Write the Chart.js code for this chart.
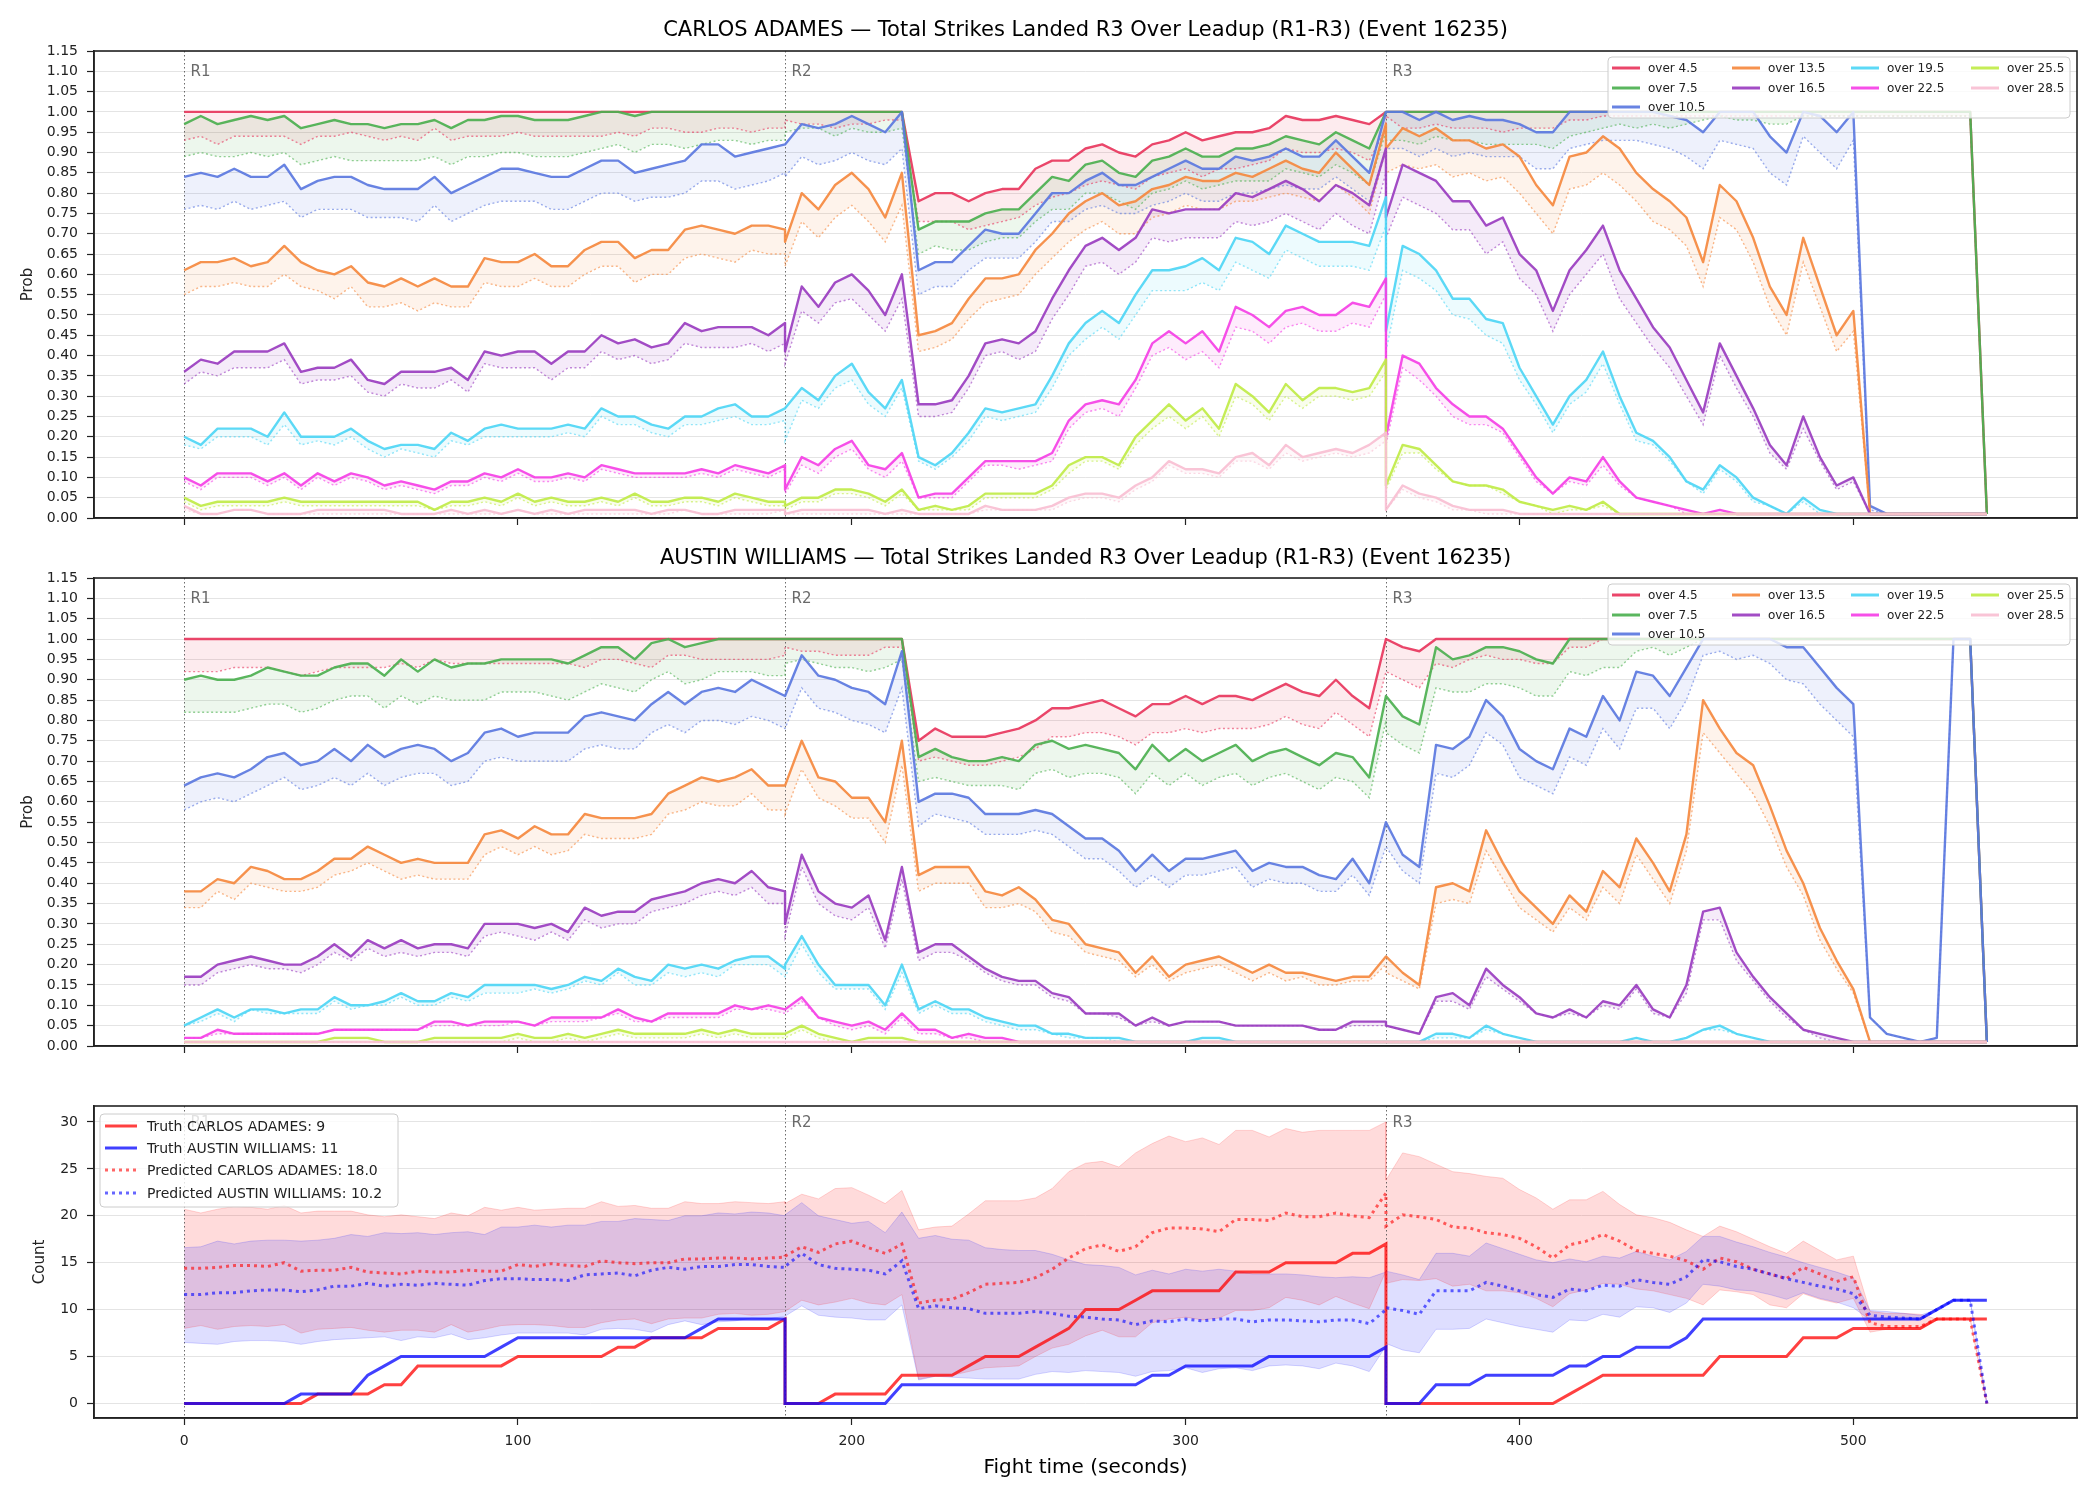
<!DOCTYPE html>
<html>
<head>
<meta charset="utf-8">
<script src="https://cdn.jsdelivr.net/npm/chart.js@4.4.1/dist/chart.umd.min.js"></script>
<style>
  html, body { margin: 0; padding: 0; background: #fff; }
  #wrap { position: relative; width: 2100px; height: 1500px; }
  canvas { position: absolute; left: 0; }
</style>
</head>
<body>
<div id="wrap">
  <canvas id="adamesChart" width="2100" height="540" style="top:0px"></canvas>
  <canvas id="williamsChart" width="2100" height="528" style="top:540px"></canvas>
  <canvas id="countChart" width="2100" height="432" style="top:1068px"></canvas>
</div>
<script>
// rounds, ticks, labels
const roundStarts = [0, 180, 360];
const roundNames = ['R1', 'R2', 'R3'];
const timeTicks = [0, 100, 200, 300, 400, 500];
const probTicks = [0, .05, .1, .15, .2, .25, .3, .35, .4, .45, .5, .55, .6, .65, .7, .75, .8, .85, .9, .95, 1, 1.05, 1.1, 1.15];
const countTicks = [0, 5, 10, 15, 20, 25, 30];
const lineLabels = ['over 4.5', 'over 7.5', 'over 10.5', 'over 13.5', 'over 16.5', 'over 19.5', 'over 22.5', 'over 25.5', 'over 28.5'];
const lineColors = ['#e8365d', '#4cb050', '#5b78e0', '#f5893f', '#9a3dc0', '#4ed6f5', '#f540e6', '#c0eb48', '#f8bfd2'];

// one sample every 5 s, each round restarts at its own start (0..180 within round)
const timeSec = [];
roundStarts.forEach(s => { for (let t = 0; t <= 180; t += 5) timeSec.push(s + t); });

// ---------------- CARLOS ADAMES : P(over x) and lower band ----------------
const adamesOver4_5 = [
  1,1,1,1,1,1,1,1,1,1, 1,1,1,1,1,1,1,1,1,1, 1,1,1,1,1,1,1,1,1,1, 1,1,1,1,1,1,1,
  1,1,1,1,1,1,1,1,.78,.80, .80,.78,.80,.81,.81,.86,.88,.88,.91,.92, .90,.89,.92,.93,.95,.93,.94,.95,.95,.96, .99,.98,.98,.99,.98,.97,1,
  1,1,1,1,1,1,1,1,1,1, 1,1,1,1,1,1,1,1,1,1, 1,1,1,1,1,1,1,1,1,1, 1,1,1,1,1,1,.01];
const adamesOver4_5Low = [
  .93,.94,.92,.94,.94,.94,.94,.92,.94,.94, .95,.94,.93,.94,.93,.96,.93,.94,.94,.94, .95,.94,.94,.94,.94,.94,.95,.94,.96,.96, .95,.95,.96,.96,.95,.96,.96,
  .98,.97,.97,.96,.97,.97,.98,.98,.73,.73, .73,.71,.72,.73,.74,.77,.79,.80,.82,.83, .82,.81,.84,.85,.86,.84,.86,.86,.87,.88, .91,.90,.90,.91,.90,.88,.96,
  .99,.96,.96,.97,.96,.96,.96,.95,.96,.96, .96,.98,.98,.99,.99,.99,.99,.99,.99,.99, .99,.99,.99,.99,.99,.99,.99,.99,.99,.99, .99,.99,.99,.99,.99,.99,.01];
const adamesOver7_5 = [
  .97,.99,.97,.98,.99,.98,.99,.96,.97,.98, .97,.97,.96,.97,.97,.98,.96,.98,.98,.99, .99,.98,.98,.98,.99,1,1,.99,1,1, 1,1,1,1,1,1,1,
  1,1,1,1,1,1,1,1,.71,.73, .73,.73,.75,.76,.76,.80,.84,.83,.87,.88, .85,.84,.88,.89,.91,.89,.89,.91,.91,.92, .94,.93,.92,.95,.93,.91,1,
  1,1,1,1,1,1,1,1,1,1, 1,1,1,1,1,1,1,1,1,1, 1,1,1,1,1,1,1,1,1,1, 1,1,1,1,1,1,.01];
const adamesOver7_5Low = [
  .89,.90,.89,.89,.90,.89,.90,.87,.88,.89, .88,.88,.88,.88,.88,.89,.87,.89,.89,.90, .90,.89,.89,.89,.90,.91,.92,.90,.92,.92, .91,.92,.93,.93,.92,.93,.93,
  .95,.96,.96,.94,.96,.95,.95,.96,.65,.67, .66,.66,.68,.69,.69,.73,.76,.76,.80,.80, .78,.76,.80,.81,.83,.81,.82,.83,.83,.83, .86,.85,.84,.87,.85,.82,.95,
  .93,.93,.92,.94,.93,.93,.92,.92,.92,.92, .91,.94,.95,.96,.97,.96,.97,.96,.97,.98, .99,.98,.98,.97,.97,.99,.99,.99,.99,.99, .99,.99,.99,.99,.99,.99,.01];
const adamesOver10_5 = [
  .84,.85,.84,.86,.84,.84,.87,.81,.83,.84, .84,.82,.81,.81,.81,.84,.80,.82,.84,.86, .86,.85,.84,.84,.86,.88,.88,.85,.86,.87, .88,.92,.92,.89,.90,.91,.92,
  .92,.97,.96,.97,.99,.97,.95,1,.61,.63, .63,.67,.71,.70,.70,.75,.80,.80,.83,.85, .82,.82,.84,.86,.88,.86,.86,.89,.88,.89, .91,.89,.89,.93,.89,.85,1,
  1,1,.98,1,.98,.99,.98,.98,.97,.95, .95,1,1,1,1,1,1,.99,.98,.95, 1,1,1,.94,.90,1,.99,.95,1,.03, .01,.01,.01,.01,.01,.01,.01];
const adamesOver10_5Low = [
  .76,.77,.76,.78,.76,.77,.78,.74,.76,.76, .76,.74,.74,.74,.73,.77,.73,.75,.77,.78, .78,.78,.76,.76,.78,.80,.80,.78,.79,.79, .80,.83,.83,.81,.82,.83,.85,
  .84,.89,.87,.88,.90,.88,.87,.91,.55,.57, .57,.61,.64,.64,.64,.68,.73,.73,.76,.77, .75,.75,.77,.78,.80,.78,.78,.80,.80,.81, .82,.81,.81,.84,.81,.78,.91,
  .91,.91,.89,.91,.89,.90,.89,.89,.89,.86, .86,.91,.92,.93,.93,.93,.92,.91,.89,.86, .93,.92,.91,.85,.82,.94,.90,.86,.93,.02, .01,.01,.01,.01,.01,.01,.01];
const adamesOver13_5 = [
  .61,.63,.63,.64,.62,.63,.67,.63,.61,.60, .62,.58,.57,.59,.57,.59,.57,.57,.64,.63, .63,.65,.62,.62,.66,.68,.68,.64,.66,.66, .71,.72,.71,.70,.72,.72,.71,
  .68,.80,.76,.82,.85,.81,.74,.85,.45,.46, .48,.54,.59,.59,.60,.66,.70,.75,.78,.80, .77,.78,.81,.82,.84,.83,.83,.85,.84,.86, .88,.86,.85,.90,.86,.82,.97,
  .91,.96,.94,.96,.93,.93,.91,.92,.89,.82, .77,.89,.90,.94,.91,.85,.81,.78,.74,.63, .82,.78,.69,.57,.50,.69,.57,.45,.51,.01, .01,.01,.01,.01,.01,.01,.01];
const adamesOver13_5Low = [
  .55,.57,.57,.58,.57,.57,.60,.57,.56,.54, .57,.52,.52,.53,.51,.53,.52,.52,.58,.57, .57,.59,.57,.57,.60,.62,.62,.58,.60,.60, .64,.65,.64,.63,.66,.65,.65,
  .62,.73,.69,.74,.77,.73,.68,.77,.41,.42, .44,.49,.53,.54,.55,.60,.64,.68,.71,.73, .70,.70,.74,.75,.77,.76,.76,.78,.78,.79, .80,.79,.78,.82,.79,.75,.91,
  .85,.87,.86,.87,.84,.85,.83,.84,.80,.75, .70,.81,.82,.85,.82,.78,.73,.71,.67,.57, .74,.71,.63,.52,.45,.63,.52,.41,.46,.01, .01,.01,.01,.01,.01,.01,.01];
const adamesOver16_5 = [
  .36,.39,.38,.41,.41,.41,.43,.36,.37,.37, .39,.34,.33,.36,.36,.36,.37,.34,.41,.40, .41,.41,.38,.41,.41,.45,.43,.44,.42,.43, .48,.46,.47,.47,.47,.45,.48,
  .41,.57,.52,.58,.60,.56,.50,.60,.28,.28, .29,.35,.43,.44,.43,.46,.54,.61,.67,.69, .66,.69,.76,.75,.76,.76,.76,.80,.79,.81, .83,.81,.78,.82,.80,.77,.91,
  .74,.87,.85,.83,.78,.78,.72,.74,.65,.61, .51,.61,.66,.72,.61,.54,.47,.42,.34,.26, .43,.35,.27,.18,.13,.25,.15,.08,.10,.01, .01,.01,.01,.01,.01,.01,.01];
const adamesOver16_5Low = [
  .33,.36,.35,.37,.37,.37,.39,.33,.34,.34, .35,.31,.30,.33,.32,.32,.34,.31,.38,.37, .37,.37,.34,.37,.37,.41,.39,.40,.38,.39, .43,.42,.42,.42,.43,.41,.43,
  .38,.51,.48,.53,.54,.50,.46,.54,.25,.25, .26,.32,.40,.41,.39,.41,.49,.55,.62,.63, .60,.63,.69,.68,.69,.69,.69,.73,.72,.73, .75,.73,.71,.75,.72,.70,.85,
  .69,.79,.77,.75,.71,.71,.65,.68,.59,.55, .46,.55,.60,.65,.54,.48,.42,.37,.30,.23, .40,.32,.25,.16,.12,.22,.14,.07,.09,.01, .01,.01,.01,.01,.01,.01,.01];
const adamesOver19_5 = [
  .20,.18,.22,.22,.22,.20,.26,.20,.20,.20, .22,.19,.17,.18,.18,.17,.21,.19,.22,.23, .22,.22,.22,.23,.22,.27,.25,.25,.23,.22, .25,.25,.27,.28,.25,.25,.27,
  .27,.32,.29,.35,.38,.31,.27,.34,.15,.13, .16,.21,.27,.26,.27,.28,.35,.43,.48,.51, .48,.55,.61,.61,.62,.64,.61,.69,.68,.65, .72,.70,.68,.68,.68,.67,.79,
  .46,.67,.65,.61,.54,.54,.49,.48,.37,.30, .23,.30,.34,.41,.30,.21,.19,.15,.09,.07, .13,.10,.05,.03,.01,.05,.02,.01,.01,.01, .01,.01,.01,.01,.01,.01,.01];
const adamesOver19_5Low = [
  .18,.17,.20,.20,.20,.18,.23,.18,.19,.18, .20,.17,.15,.17,.16,.15,.19,.18,.20,.20, .20,.20,.20,.21,.20,.25,.23,.23,.21,.20, .23,.23,.24,.25,.23,.23,.24,
  .19,.29,.27,.32,.34,.28,.25,.32,.14,.12, .15,.19,.25,.24,.25,.26,.32,.40,.44,.47, .44,.50,.56,.56,.56,.58,.56,.63,.61,.59, .66,.64,.62,.62,.62,.61,.72,
  .41,.61,.59,.56,.50,.49,.45,.43,.34,.28, .21,.28,.31,.38,.28,.19,.18,.14,.09,.06, .12,.09,.04,.03,.01,.04,.01,.01,.01,.01, .01,.01,.01,.01,.01,.01,.01];
const adamesOver22_5 = [
  .10,.08,.11,.11,.11,.09,.11,.08,.11,.09, .11,.10,.08,.09,.08,.07,.09,.09,.11,.10, .12,.10,.10,.11,.10,.13,.12,.11,.11,.11, .11,.12,.11,.13,.12,.11,.13,
  .07,.15,.13,.17,.19,.13,.12,.16,.05,.06, .06,.10,.14,.14,.14,.14,.16,.24,.28,.29, .28,.34,.43,.46,.43,.46,.41,.52,.50,.47, .51,.52,.50,.50,.53,.52,.59,
  .20,.40,.38,.32,.28,.25,.25,.22,.16,.10, .06,.10,.09,.15,.09,.05,.04,.03,.02,.01, .02,.01,.01,.01,.01,.01,.01,.01,.01,.01, .01,.01,.01,.01,.01,.01,.01];
const adamesOver22_5Low = [
  .09,.07,.10,.10,.10,.08,.10,.07,.10,.08, .10,.09,.07,.08,.07,.06,.08,.08,.10,.09, .11,.09,.09,.10,.09,.12,.11,.10,.10,.10, .10,.11,.10,.12,.11,.10,.12,
  .06,.13,.11,.15,.17,.12,.10,.14,.05,.05, .05,.09,.13,.13,.12,.13,.14,.22,.26,.27, .25,.32,.40,.42,.39,.41,.37,.47,.46,.43, .47,.48,.46,.46,.48,.47,.55,
  .18,.37,.34,.30,.25,.23,.23,.21,.15,.09, .06,.09,.08,.13,.08,.05,.04,.03,.01,.01, .01,.01,.01,.01,.01,.01,.01,.01,.01,.01, .01,.01,.01,.01,.01,.01,.01];
const adamesOver25_5 = [
  .05,.03,.04,.04,.04,.04,.05,.04,.04,.04, .04,.04,.04,.04,.04,.02,.04,.04,.05,.04, .06,.04,.05,.04,.04,.05,.04,.06,.04,.04, .05,.05,.04,.06,.05,.04,.04,
  .03,.05,.05,.07,.07,.06,.04,.07,.02,.03, .02,.03,.06,.06,.06,.06,.08,.13,.15,.15, .13,.20,.24,.28,.24,.27,.22,.33,.30,.26, .33,.29,.32,.32,.31,.32,.39,
  .08,.18,.17,.13,.09,.08,.08,.07,.04,.03, .02,.03,.02,.04,.01,.01,.01,.01,.01,.01, .01,.01,.01,.01,.01,.01,.01,.01,.01,.01, .01,.01,.01,.01,.01,.01,.01];
const adamesOver25_5Low = [
  .04,.02,.03,.03,.03,.03,.04,.03,.03,.03, .03,.03,.03,.03,.03,.02,.03,.03,.04,.03, .05,.03,.04,.03,.03,.04,.03,.05,.03,.03, .04,.04,.03,.05,.04,.03,.03,
  .02,.04,.04,.06,.06,.05,.03,.06,.02,.02, .02,.02,.05,.05,.05,.05,.07,.11,.14,.14, .12,.18,.22,.25,.22,.25,.20,.30,.28,.24, .30,.27,.30,.30,.29,.30,.36,
  .07,.16,.16,.12,.09,.08,.08,.06,.04,.03, .01,.02,.02,.03,.01,.01,.01,.01,.01,.01, .01,.01,.01,.01,.01,.01,.01,.01,.01,.01, .01,.01,.01,.01,.01,.01,.01];
const adamesOver28_5 = [
  .03,.01,.01,.02,.02,.01,.01,.01,.02,.02, .02,.02,.02,.01,.01,.01,.02,.01,.02,.01, .02,.01,.02,.01,.02,.02,.02,.02,.01,.02, .02,.01,.01,.02,.02,.02,.02,
  .01,.02,.02,.02,.02,.02,.01,.02,.01,.01, .01,.01,.03,.02,.02,.02,.03,.05,.06,.06, .05,.08,.10,.14,.12,.12,.11,.15,.16,.13, .18,.15,.16,.17,.16,.18,.21,
  .02,.08,.06,.05,.03,.02,.02,.02,.01,.01, .01,.01,.01,.01,.01,.01,.01,.01,.01,.01, .01,.01,.01,.01,.01,.01,.01,.01,.01,.01, .01,.01,.01,.01,.01,.01,.01];
const adamesOver28_5Low = [
  .02,.01,.01,.02,.02,.01,.01,.01,.01,.01, .01,.01,.01,.01,.01,.01,.01,.01,.01,.01, .02,.01,.01,.01,.01,.01,.01,.01,.01,.01, .02,.01,.01,.01,.01,.01,.02,
  .01,.01,.01,.01,.01,.01,.01,.01,.01,.01, .01,.01,.02,.02,.02,.02,.02,.04,.05,.05, .04,.07,.09,.13,.11,.11,.10,.14,.14,.12, .16,.14,.15,.16,.15,.16,.19,
  .02,.07,.05,.04,.02,.02,.01,.01,.01,.01, .01,.01,.01,.01,.01,.01,.01,.01,.01,.01, .01,.01,.01,.01,.01,.01,.01,.01,.01,.01, .01,.01,.01,.01,.01,.01,.01];

// ---------------- AUSTIN WILLIAMS : P(over x) and lower band ----------------
const williamsOver4_5 = [
  1,1,1,1,1,1,1,1,1,1, 1,1,1,1,1,1,1,1,1,1, 1,1,1,1,1,1,1,1,1,1, 1,1,1,1,1,1,1,
  1,1,1,1,1,1,1,1,.75,.78, .76,.76,.76,.77,.78,.80,.83,.83,.84,.85, .83,.81,.84,.84,.86,.84,.86,.86,.85,.87, .89,.87,.86,.90,.86,.83,1,
  1,.98,.97,1,1,1,1,1,1,1, 1,1,1,1,1,1,1,1,1,1, 1,1,1,1,1,1,1,1,1,1, 1,1,1,1,1,1,.01];
const williamsOver4_5Low = [
  .92,.92,.92,.93,.93,.93,.92,.91,.92,.93, .93,.93,.93,.94,.93,.95,.94,.94,.94,.94, .94,.94,.94,.94,.93,.95,.95,.94,.93,.96, .96,.95,.95,.95,.95,.95,.96,
  .98,.97,.97,.96,.96,.96,.98,.98,.70,.71, .70,.69,.69,.70,.71,.73,.76,.76,.77,.77, .76,.74,.77,.77,.78,.77,.78,.78,.78,.79, .81,.79,.78,.82,.79,.76,.92,
  .92,.90,.88,.94,.93,.95,.96,.95,.95,.94, .94,.98,.98,1,1,1,1,1,1,1, 1,1,1,1,1,1,1,1,1,1, 1,1,1,1,1,1,.01];
const williamsOver7_5 = [
  .90,.91,.90,.90,.91,.93,.92,.91,.91,.93, .94,.94,.91,.95,.92,.95,.93,.94,.94,.95, .95,.95,.95,.94,.96,.98,.98,.95,.99,1, .98,.99,1,1,1,1,1,
  1,1,1,1,1,1,1,1,.71,.73, .71,.70,.70,.71,.70,.74,.75,.73,.74,.73, .72,.68,.74,.70,.73,.70,.72,.74,.70,.72, .73,.71,.69,.72,.71,.66,.86,
  .86,.81,.79,.98,.95,.96,.98,.98,.97,.95, .94,1,1,1,1,1,1,1,1,1, 1,1,1,1,1,1,1,1,1,1, 1,1,1,1,1,1,.01];
const williamsOver7_5Low = [
  .82,.82,.82,.82,.83,.84,.84,.82,.83,.85, .86,.86,.83,.86,.84,.86,.85,.85,.85,.87, .87,.87,.86,.85,.87,.89,.88,.87,.90,.92, .89,.90,.92,.92,.92,.91,.91,
  .94,.95,.94,.93,.93,.92,.93,.95,.65,.66, .65,.64,.64,.64,.63,.67,.68,.66,.67,.67, .66,.62,.67,.64,.67,.64,.66,.67,.64,.66, .67,.65,.63,.66,.65,.61,.80,
  .77,.74,.72,.88,.87,.87,.89,.89,.88,.86, .86,.92,.91,.93,.93,.97,.98,.96,.98,1, 1,1,1,1,1,1,1,1,1,1, 1,1,1,1,1,1,.01];
const williamsOver10_5 = [
  .64,.66,.67,.66,.68,.71,.72,.69,.70,.73, .70,.74,.71,.73,.74,.73,.70,.72,.77,.78, .76,.77,.77,.77,.81,.82,.81,.80,.84,.87, .84,.87,.88,.87,.90,.88,.86,
  .86,.96,.91,.90,.88,.87,.84,.97,.60,.62, .62,.61,.57,.57,.57,.58,.57,.54,.51,.51, .48,.43,.47,.43,.46,.46,.47,.48,.43,.45, .44,.44,.42,.41,.46,.40,.55,
  .55,.47,.44,.74,.73,.76,.85,.81,.73,.70, .68,.78,.76,.86,.80,.92,.91,.86,.93,1, 1,1,1,1,.98,.98,.93,.88,.84,.07, .03,.02,.01,.02,1,1,.01];
const williamsOver10_5Low = [
  .58,.60,.61,.60,.62,.64,.66,.63,.64,.66, .64,.67,.64,.66,.67,.67,.64,.65,.70,.71, .70,.70,.70,.70,.73,.74,.73,.73,.77,.79, .77,.80,.80,.79,.81,.80,.78,
  .78,.88,.83,.82,.80,.79,.77,.88,.54,.57, .56,.55,.52,.52,.52,.53,.52,.49,.46,.46, .43,.39,.42,.39,.42,.42,.43,.44,.39,.41, .40,.40,.38,.38,.42,.37,.49,
  .49,.43,.40,.67,.66,.69,.77,.74,.66,.64, .62,.71,.69,.78,.73,.83,.83,.78,.85,.96, .97,.95,.96,.94,.90,.89,.84,.80,.76,.07, .03,.02,.01,.02,1,1,.01];
const williamsOver13_5 = [
  .38,.38,.41,.40,.44,.43,.41,.41,.43,.46, .46,.49,.47,.45,.46,.45,.45,.45,.52,.53, .51,.54,.52,.52,.57,.56,.56,.56,.57,.62, .64,.66,.65,.66,.68,.64,.64,
  .64,.75,.66,.65,.61,.61,.55,.75,.42,.44, .44,.44,.38,.37,.39,.36,.31,.30,.25,.24, .23,.18,.22,.17,.20,.21,.22,.20,.18,.20, .18,.18,.17,.16,.17,.17,.22,
  .22,.18,.15,.39,.40,.38,.53,.45,.38,.34, .30,.37,.33,.43,.39,.51,.45,.38,.52,.85, .78,.72,.69,.59,.48,.40,.29,.21,.14,.01, .01,.01,.01,.01,.01,.01,.01];
const williamsOver13_5Low = [
  .34,.34,.38,.36,.40,.39,.38,.38,.39,.42, .43,.45,.43,.41,.42,.41,.41,.41,.47,.49, .47,.49,.47,.48,.52,.51,.51,.51,.52,.57, .58,.60,.59,.59,.62,.58,.58,
  .57,.68,.61,.59,.56,.56,.50,.69,.38,.40, .40,.40,.34,.34,.35,.33,.28,.27,.23,.22, .21,.17,.20,.16,.18,.19,.20,.18,.16,.18, .16,.17,.15,.15,.16,.16,.20,
  .18,.16,.14,.35,.36,.35,.48,.41,.34,.31, .28,.34,.31,.39,.35,.47,.41,.35,.48,.77, .72,.67,.62,.54,.44,.37,.26,.19,.13,.01, .01,.01,.01,.01,.01,.01,.01];
const williamsOver16_5 = [
  .17,.17,.20,.21,.22,.21,.20,.20,.22,.25, .22,.26,.24,.26,.24,.25,.25,.24,.30,.30, .30,.29,.30,.28,.34,.32,.33,.33,.36,.37, .38,.40,.41,.40,.43,.39,.38,
  .30,.47,.38,.35,.34,.37,.26,.44,.23,.25, .25,.22,.19,.17,.16,.16,.13,.12,.08,.08, .08,.05,.07,.05,.06,.06,.06,.05,.05,.05, .05,.05,.04,.04,.06,.06,.06,
  .05,.04,.03,.12,.13,.10,.19,.15,.12,.08, .07,.09,.07,.11,.10,.15,.09,.07,.15,.33, .34,.23,.17,.12,.08,.04,.03,.02,.01,.01, .01,.01,.01,.01,.01,.01,.01];
const williamsOver16_5Low = [
  .15,.15,.18,.19,.20,.19,.19,.18,.20,.23, .21,.24,.22,.23,.22,.23,.23,.22,.27,.28, .27,.26,.28,.26,.31,.29,.30,.30,.33,.34, .35,.37,.38,.37,.39,.35,.35,
  .27,.44,.35,.32,.31,.34,.24,.41,.21,.23, .23,.21,.18,.16,.15,.15,.12,.11,.08,.08, .07,.05,.06,.05,.06,.06,.06,.05,.05,.05, .05,.05,.04,.04,.05,.05,.05,
  .05,.04,.03,.11,.11,.09,.17,.14,.11,.08, .07,.08,.07,.10,.09,.14,.08,.07,.13,.31, .31,.21,.16,.11,.07,.04,.02,.01,.01,.01, .01,.01,.01,.01,.01,.01,.01];
const williamsOver19_5 = [
  .05,.07,.09,.07,.09,.09,.08,.09,.09,.12, .10,.10,.11,.13,.11,.11,.13,.12,.15,.15, .15,.15,.14,.15,.17,.16,.19,.17,.16,.20, .19,.20,.19,.21,.22,.22,.19,
  .20,.27,.20,.15,.15,.15,.10,.20,.09,.11, .09,.09,.07,.06,.05,.05,.03,.03,.02,.02, .02,.01,.01,.01,.01,.02,.02,.01,.01,.01, .01,.01,.01,.01,.01,.01,.01,
  .01,.01,.01,.03,.03,.02,.05,.03,.02,.01, .01,.01,.01,.01,.01,.02,.01,.01,.02,.04, .05,.03,.02,.01,.01,.01,.01,.01,.01,.01, .01,.01,.01,.01,.01,.01,.01];
const williamsOver19_5Low = [
  .05,.06,.08,.06,.09,.08,.08,.08,.08,.11, .09,.10,.10,.12,.10,.10,.12,.11,.13,.13, .13,.14,.13,.14,.16,.15,.18,.15,.15,.18, .17,.18,.17,.20,.20,.20,.17,
  .17,.25,.18,.14,.14,.14,.09,.18,.08,.10, .08,.08,.06,.05,.04,.04,.03,.02,.02,.02, .01,.01,.01,.01,.01,.01,.01,.01,.01,.01, .01,.01,.01,.01,.01,.01,.01,
  .01,.01,.01,.02,.02,.02,.04,.03,.02,.01, .01,.01,.01,.01,.01,.02,.01,.01,.02,.04, .04,.03,.02,.01,.01,.01,.01,.01,.01,.01, .01,.01,.01,.01,.01,.01,.01];
const williamsOver22_5 = [
  .02,.02,.04,.03,.03,.03,.03,.03,.03,.04, .04,.04,.04,.04,.04,.06,.06,.05,.06,.06, .06,.05,.07,.07,.07,.07,.09,.07,.06,.08, .08,.08,.08,.10,.09,.10,.09,
  .09,.12,.07,.06,.05,.06,.04,.08,.04,.04, .02,.03,.02,.02,.01,.01,.01,.01,.01,.01, .01,.01,.01,.01,.01,.01,.01,.01,.01,.01, .01,.01,.01,.01,.01,.01,.01,
  .01,.01,.01,.01,.01,.01,.01,.01,.01,.01, .01,.01,.01,.01,.01,.01,.01,.01,.01,.01, .01,.01,.01,.01,.01,.01,.01,.01,.01,.01, .01,.01,.01,.01,.01,.01,.01];
const williamsOver22_5Low = [
  .02,.02,.03,.03,.03,.03,.03,.03,.03,.04, .04,.04,.04,.04,.04,.05,.05,.05,.05,.05, .06,.05,.06,.06,.06,.07,.08,.06,.06,.07, .07,.07,.07,.09,.09,.09,.08,
  .08,.11,.07,.05,.04,.05,.03,.07,.03,.03, .02,.02,.01,.01,.01,.01,.01,.01,.01,.01, .01,.01,.01,.01,.01,.01,.01,.01,.01,.01, .01,.01,.01,.01,.01,.01,.01,
  .01,.01,.01,.01,.01,.01,.01,.01,.01,.01, .01,.01,.01,.01,.01,.01,.01,.01,.01,.01, .01,.01,.01,.01,.01,.01,.01,.01,.01,.01, .01,.01,.01,.01,.01,.01,.01];
const williamsOver25_5 = [
  .01,.01,.01,.01,.01,.01,.01,.01,.01,.02, .02,.02,.01,.01,.01,.02,.02,.02,.02,.02, .03,.02,.02,.03,.02,.03,.04,.03,.03,.03, .03,.04,.03,.04,.03,.03,.03,
  .03,.05,.03,.02,.01,.02,.02,.02,.01,.01, .01,.01,.01,.01,.01,.01,.01,.01,.01,.01, .01,.01,.01,.01,.01,.01,.01,.01,.01,.01, .01,.01,.01,.01,.01,.01,.01,
  .01,.01,.01,.01,.01,.01,.01,.01,.01,.01, .01,.01,.01,.01,.01,.01,.01,.01,.01,.01, .01,.01,.01,.01,.01,.01,.01,.01,.01,.01, .01,.01,.01,.01,.01,.01,.01];
const williamsOver25_5Low = [
  .01,.01,.01,.01,.01,.01,.01,.01,.01,.01, .01,.01,.01,.01,.01,.01,.01,.01,.01,.01, .02,.01,.01,.02,.01,.02,.03,.02,.02,.02, .02,.03,.02,.03,.02,.02,.02,
  .02,.04,.02,.01,.01,.01,.01,.01,.01,.01, .01,.01,.01,.01,.01,.01,.01,.01,.01,.01, .01,.01,.01,.01,.01,.01,.01,.01,.01,.01, .01,.01,.01,.01,.01,.01,.01,
  .01,.01,.01,.01,.01,.01,.01,.01,.01,.01, .01,.01,.01,.01,.01,.01,.01,.01,.01,.01, .01,.01,.01,.01,.01,.01,.01,.01,.01,.01, .01,.01,.01,.01,.01,.01,.01];
const williamsOver28_5 = [
  .01,.01,.01,.01,.01,.01,.01,.01,.01,.01, .01,.01,.01,.01,.01,.01,.01,.01,.01,.01, .01,.01,.01,.01,.01,.01,.01,.01,.01,.01, .01,.01,.01,.01,.01,.01,.01,
  .01,.01,.01,.01,.01,.01,.01,.01,.01,.01, .01,.01,.01,.01,.01,.01,.01,.01,.01,.01, .01,.01,.01,.01,.01,.01,.01,.01,.01,.01, .01,.01,.01,.01,.01,.01,.01,
  .01,.01,.01,.01,.01,.01,.01,.01,.01,.01, .01,.01,.01,.01,.01,.01,.01,.01,.01,.01, .01,.01,.01,.01,.01,.01,.01,.01,.01,.01, .01,.01,.01,.01,.01,.01,.01];
const williamsOver28_5Low = williamsOver28_5;

// ---------------- running counts (bottom panel) ----------------
const truthAdames = [
  0,0,0,0,0,0,0,0,1,1, 1,1,2,2,4,4,4,4,4,4, 5,5,5,5,5,5,6,6,7,7, 7,7,8,8,8,8,9,
  0,0,0,1,1,1,1,3,3,3, 3,4,5,5,5,6,7,8,10,10, 10,11,12,12,12,12,12,14,14,14, 15,15,15,15,16,16,17,
  0,0,0,0,0,0,0,0,0,0, 0,1,2,3,3,3,3,3,3,3, 5,5,5,5,5,7,7,7,8,8, 8,8,8,9,9,9,9];
const truthWilliams = [
  0,0,0,0,0,0,0,1,1,1, 1,3,4,5,5,5,5,5,5,6, 7,7,7,7,7,7,7,7,7,7, 7,8,9,9,9,9,9,
  0,0,0,0,0,0,0,2,2,2, 2,2,2,2,2,2,2,2,2,2, 2,2,3,3,4,4,4,4,4,5, 5,5,5,5,5,5,6,
  0,0,0,2,2,2,3,3,3,3, 3,4,4,5,5,6,6,6,7,9, 9,9,9,9,9,9,9,9,9,9, 9,9,9,10,11,11,11];
const predAdames = [
  14.4,14.4,14.5,14.7,14.7,14.6,15.0,14.1,14.2,14.2, 14.5,14.0,13.9,13.8,14.1,14.0,14.0,14.2,14.1,14.1, 14.8,14.6,14.9,14.7,14.6,15.2,15.0,14.9,15.0,15.0, 15.4,15.4,15.5,15.5,15.4,15.5,15.6,
  15.7,16.7,16.1,17.0,17.3,16.6,16.0,17.0,10.7,11.0, 11.1,11.8,12.7,12.8,12.9,13.4,14.3,15.5,16.5,16.9, 16.2,16.7,18.2,18.7,18.7,18.6,18.3,19.6,19.6,19.5, 20.3,19.9,19.9,20.3,20.0,19.8,22.4,
  18.9,20.1,19.9,19.6,18.8,18.7,18.2,18.0,17.6,16.7, 15.5,16.9,17.3,18.0,17.3,16.3,16.0,15.7,15.2,14.3, 15.5,15.1,14.3,13.8,13.3,14.5,13.8,13.0,13.5,8.6, 8.2,8.2,8.2,9.0,9.0,9.0,0];
const predWilliams = [
  11.6,11.6,11.8,11.8,12.0,12.1,12.1,11.9,12.1,12.5, 12.5,12.8,12.5,12.7,12.6,12.8,12.7,12.6,13.1,13.3, 13.3,13.2,13.2,13.1,13.7,13.8,13.9,13.6,14.2,14.5, 14.3,14.6,14.6,14.8,14.8,14.6,14.5,
  14.6,16.0,14.8,14.4,14.3,14.2,13.8,15.2,10.1,10.4, 10.2,10.1,9.6,9.6,9.6,9.8,9.6,9.3,9.2,9.0, 8.9,8.4,8.8,8.7,9.0,8.8,9.0,9.0,8.7,8.9, 8.9,8.8,8.7,8.9,8.9,8.5,10.0,
  10.2,9.9,9.5,12.0,12.0,12.0,12.9,12.5,12.0,11.6, 11.3,12.2,12.0,12.6,12.5,13.2,12.9,12.7,13.5,15.3, 15.1,14.6,14.3,13.8,13.3,12.9,12.5,12.2,11.7,9.4, 9.2,9.1,9.0,10.0,11.0,11.0,0];
const bandAdamesHigh = [
  20.7,20.3,20.7,21.0,20.9,20.7,21.1,20.3,20.5,20.5, 20.5,20.1,19.9,20.1,19.9,19.7,20.3,20.0,20.9,20.6, 20.9,20.6,20.7,20.8,20.8,21.5,21.0,21.1,20.8,20.8, 21.5,21.3,21.3,21.5,21.4,21.3,21.5,
  21.3,22.3,21.8,22.9,23.0,22.2,21.3,22.7,18.5,18.8, 18.9,20.2,21.6,21.6,21.6,21.9,22.9,24.7,25.6,25.8, 25.2,26.7,27.7,28.5,27.9,28.3,27.6,29.1,29.1,28.4, 29.3,28.9,29.1,29.1,29.1,29.1,30.0,
  23.8,26.7,26.3,25.5,24.7,24.5,24.2,24.0,22.8,21.9, 20.7,21.7,21.7,22.6,21.2,20.1,19.8,19.3,18.5,17.8, 18.9,18.3,17.5,16.7,16.0,17.3,16.3,15.3,15.7,9.8, 9.6,9.6,9.5,9.0,9.0,9.0,0];
const bandAdamesLow = [
  8.0,8.3,7.9,8.2,8.3,8.2,8.4,7.5,7.9,8.0, 8.1,7.8,7.6,7.8,7.8,7.6,8.4,7.6,7.9,8.3, 8.4,8.4,8.3,8.1,8.1,8.6,8.9,9.0,8.5,9.0, 9.1,9.1,9.5,9.6,9.4,9.5,9.8,
  9.8,11.0,10.5,10.8,11.2,10.7,10.5,11.6,2.6,2.9, 3.0,3.4,3.8,3.9,4.0,5.0,5.9,6.3,7.2,7.8, 7.1,7.1,8.6,9.0,9.2,8.9,9.1,9.9,9.9,10.2, 11.3,11.0,10.5,11.4,10.7,10.1,14.1,
  12.8,13.2,13.1,13.3,12.5,12.7,12.0,12.0,11.8,11.2, 10.3,11.7,12.1,12.8,12.7,12.2,12.0,11.6,11.2,10.5, 12.1,11.9,11.6,10.5,10.2,11.7,11.1,10.7,11.2,7.6, 7.9,7.9,7.9,8.9,9.0,9.0,0];
const bandWilliamsHigh = [
  16.6,16.7,17.3,17.0,17.3,17.4,17.4,17.3,17.4,17.6, 18.0,17.8,18.2,18.1,18.2,18.0,18.2,18.3,18.0,18.8, 18.8,19.0,18.8,19.0,19.0,19.4,19.4,19.7,19.6,19.5, 20.0,20.0,20.3,20.2,20.4,20.3,20.0,
  20.1,21.4,20.0,19.6,19.2,19.4,18.2,20.4,17.6,17.9, 17.5,17.4,16.6,16.4,16.3,16.3,15.9,15.3,14.8,14.7, 14.5,13.7,14.2,13.8,14.3,14.1,14.3,14.1,13.8,13.8, 13.8,13.7,13.5,13.4,13.5,13.4,14.0,
  14.1,13.7,13.2,16.0,16.0,15.7,17.1,16.5,15.9,15.3, 15.0,15.4,15.1,15.7,15.5,16.2,15.7,15.3,16.2,17.8, 17.8,17.2,16.7,16.1,15.6,15.0,14.5,14.0,13.4,9.9, 9.8,9.6,9.4,10.0,11.0,11.0,0];
const bandWilliamsLow = [
  6.5,6.4,6.3,6.6,6.7,6.7,6.6,6.3,6.6,6.8, 6.9,7.0,7.1,6.7,7.1,7.0,7.4,6.8,7.0,7.3, 7.5,7.5,7.5,7.5,7.3,7.9,8.0,7.9,7.6,8.4, 8.8,8.4,8.7,8.8,9.1,9.0,9.3,
  9.3,10.4,9.4,9.2,9.1,8.9,8.9,10.5,2.5,2.9, 2.8,2.7,2.6,2.6,2.6,3.1,3.4,3.3,3.5,3.4, 3.3,2.9,3.4,3.5,3.8,3.3,3.7,3.8,3.5,4.0, 4.1,4.0,3.7,4.3,4.0,3.4,6.1,
  6.4,5.7,5.4,7.9,7.9,8.0,9.0,8.6,8.2,7.9, 7.6,8.9,8.8,9.5,9.2,10.3,10.2,9.7,10.7,12.7, 12.5,12.1,12.0,11.6,11.1,11.8,11.2,10.8,10.2,8.9, 8.9,8.9,8.9,10.0,11.0,11.0,0];

const adamesHigh = [adamesOver4_5, adamesOver7_5, adamesOver10_5, adamesOver13_5, adamesOver16_5, adamesOver19_5, adamesOver22_5, adamesOver25_5, adamesOver28_5];
const adamesLow = [adamesOver4_5Low, adamesOver7_5Low, adamesOver10_5Low, adamesOver13_5Low, adamesOver16_5Low, adamesOver19_5Low, adamesOver22_5Low, adamesOver25_5Low, adamesOver28_5Low];
const williamsHigh = [williamsOver4_5, williamsOver7_5, williamsOver10_5, williamsOver13_5, williamsOver16_5, williamsOver19_5, williamsOver22_5, williamsOver25_5, williamsOver28_5];
const williamsLow = [williamsOver4_5Low, williamsOver7_5Low, williamsOver10_5Low, williamsOver13_5Low, williamsOver16_5Low, williamsOver19_5Low, williamsOver22_5Low, williamsOver25_5Low, williamsOver28_5Low];

Chart.defaults.font.family = '"DejaVu Sans", sans-serif';
Chart.defaults.color = '#222';

function rgba(hex, a) {
  const n = parseInt(hex.slice(1), 16);
  return `rgba(${(n >> 16) & 255},${(n >> 8) & 255},${n & 255},${a})`;
}
const pts = vals => vals.map((v, i) => ({ x: timeSec[i], y: v }));

function probDatasets(high, low) {
  const ds = [];
  lineLabels.forEach((lab, k) => {
    ds.push({
      label: lab, data: pts(high[k]), borderColor: rgba(lineColors[k], 0.92), borderWidth: 2.4,
      pointRadius: 0, fill: false, order: 100 - 2 * k, borderJoinStyle: 'round'
    });
    ds.push({
      label: lab + ' low', data: pts(low[k]), borderColor: rgba(lineColors[k], 0.6), borderWidth: 1.4,
      borderDash: [2, 2.5], pointRadius: 0, fill: '-1', backgroundColor: rgba(lineColors[k], 0.1), order: 99 - 2 * k
    });
  });
  return ds;
}

function roundRect(ctx, x, y, w, h, r) {
  ctx.beginPath();
  ctx.moveTo(x + r, y); ctx.lineTo(x + w - r, y); ctx.quadraticCurveTo(x + w, y, x + w, y + r);
  ctx.lineTo(x + w, y + h - r); ctx.quadraticCurveTo(x + w, y + h, x + w - r, y + h);
  ctx.lineTo(x + r, y + h); ctx.quadraticCurveTo(x, y + h, x, y + h - r);
  ctx.lineTo(x, y + r); ctx.quadraticCurveTo(x, y, x + r, y); ctx.closePath();
}

function drawProbLegend(ctx, a) {
  const w = 462, h = 61, x0 = a.right - 7 - w, y0 = a.top + 6;
  const colX = [4, 124, 243, 363], rowY = [11, 31, 50];
  roundRect(ctx, x0, y0, w, h, 4);
  ctx.fillStyle = 'rgba(255,255,255,0.8)'; ctx.fill();
  ctx.strokeStyle = '#cccccc'; ctx.lineWidth = 1; ctx.stroke();
  ctx.font = '12px "DejaVu Sans"'; ctx.textBaseline = 'middle'; ctx.textAlign = 'left';
  lineLabels.forEach((lab, k) => {
    const c = k < 3 ? 0 : 1 + Math.floor((k - 3) / 2);
    const r = k < 3 ? k : (k - 3) % 2;
    const x = x0 + colX[c], y = y0 + rowY[r];
    ctx.strokeStyle = rgba(lineColors[k], 0.92); ctx.lineWidth = 3;
    ctx.beginPath(); ctx.moveTo(x, y); ctx.lineTo(x + 28, y); ctx.stroke();
    ctx.fillStyle = '#222'; ctx.fillText(lab, x + 36, y + 1);
  });
}

const countLegend = [
  { text: 'Truth CARLOS ADAMES: 9', color: 'rgba(255,0,0,0.75)', dash: [] },
  { text: 'Truth AUSTIN WILLIAMS: 11', color: 'rgba(0,0,255,0.75)', dash: [] },
  { text: 'Predicted CARLOS ADAMES: 18.0', color: 'rgba(255,0,0,0.6)', dash: [3, 4] },
  { text: 'Predicted AUSTIN WILLIAMS: 10.2', color: 'rgba(0,0,255,0.6)', dash: [3, 4] }
];
function drawCountLegend(ctx, a) {
  const w = 298, h = 93, x0 = a.left + 6, y0 = a.top + 8;
  const rowY = [12, 34, 56, 79];
  roundRect(ctx, x0, y0, w, h, 4);
  ctx.fillStyle = 'rgba(255,255,255,0.8)'; ctx.fill();
  ctx.strokeStyle = '#cccccc'; ctx.lineWidth = 1; ctx.stroke();
  ctx.font = '14px "DejaVu Sans"'; ctx.textBaseline = 'middle'; ctx.textAlign = 'left';
  countLegend.forEach((it, k) => {
    const y = y0 + rowY[k];
    ctx.strokeStyle = it.color; ctx.lineWidth = 3; ctx.setLineDash(it.dash);
    ctx.beginPath(); ctx.moveTo(x0 + 5, y); ctx.lineTo(x0 + 37, y); ctx.stroke();
    ctx.setLineDash([]);
    ctx.fillStyle = '#222'; ctx.fillText(it.text, x0 + 47, y + 1);
  });
}

function makeDecor(title, titleY, legendFn) {
  return {
    id: 'decor',
    beforeDatasetsDraw(chart) {
      const { ctx, chartArea: a, scales: { x } } = chart;
      ctx.save();
      roundStarts.forEach((s, i) => {
        const px = Math.round(x.getPixelForValue(s)) + 0.5;
        ctx.strokeStyle = 'rgba(70,70,70,0.8)'; ctx.lineWidth = 1; ctx.setLineDash([1.5, 2.5]);
        ctx.beginPath(); ctx.moveTo(px, a.top); ctx.lineTo(px, a.bottom); ctx.stroke();
        ctx.setLineDash([]);
        ctx.fillStyle = 'rgba(90,90,90,0.9)'; ctx.font = '15px "DejaVu Sans"';
        ctx.textBaseline = 'top'; ctx.textAlign = 'left';
        ctx.fillText(roundNames[i], px + 6, a.top + 0.03 * (a.bottom - a.top));
      });
      ctx.restore();
    },
    afterDatasetsDraw(chart) {
      const { ctx, chartArea: a } = chart;
      ctx.save();
      legendFn(ctx, a);
      ctx.restore();
    },
    afterDraw(chart) {
      const { ctx, chartArea: a } = chart;
      ctx.save();
      ctx.strokeStyle = '#222'; ctx.lineWidth = 1.6;
      ctx.strokeRect(a.left, a.top, a.right - a.left, a.bottom - a.top);
      if (title) {
        ctx.fillStyle = '#000'; ctx.font = '21px "DejaVu Sans"';
        ctx.textAlign = 'center'; ctx.textBaseline = 'middle';
        ctx.fillText(title, (a.left + a.right) / 2, titleY);
      }
      ctx.restore();
    }
  };
}

function timeAxis(showLabels) {
  return {
    type: 'linear', min: -27, max: 567,
    afterBuildTicks: s => { s.ticks = timeTicks.map(v => ({ value: v })); },
    ticks: { color: showLabels ? '#222' : 'rgba(0,0,0,0)', font: { size: 14 }, padding: 8, maxRotation: 0, autoSkip: false },
    grid: { drawOnChartArea: false, drawTicks: true, tickLength: 7, tickColor: '#222', tickWidth: 1.2 },
    border: { display: true, color: '#222', width: 1.6 },
    title: showLabels ? { display: true, text: 'Fight time (seconds)', font: { size: 20 }, color: '#000', padding: { top: 0, bottom: 20 } } : { display: false },
    afterFit: s => { s.height = showLabels ? 82 : 22; }
  };
}

function probAxis() {
  return {
    type: 'linear', min: 0, max: 1.15,
    afterBuildTicks: s => { s.ticks = probTicks.map(v => ({ value: v })); },
    ticks: { callback: v => Number(v).toFixed(2), font: { size: 14 }, color: '#222', padding: 9, autoSkip: false },
    grid: { color: '#e4e4e4', lineWidth: 1, tickLength: 7, tickColor: '#222', tickWidth: 1.2 },
    border: { display: true, color: '#222', width: 1.6 },
    title: { display: true, text: 'Prob', font: { size: 15 }, color: '#222', padding: { top: 19, bottom: 0 } },
    afterFit: s => { s.width = 94; }
  };
}

function probChart(id, high, low, title, topPad, titleY) {
  return new Chart(document.getElementById(id), {
    type: 'line',
    data: { datasets: probDatasets(high, low) },
    options: {
      responsive: false, animation: false, devicePixelRatio: 1,
      layout: { padding: { left: 0, right: 23, top: topPad, bottom: 0 } },
      plugins: { legend: { display: false }, tooltip: { enabled: false }, filler: { drawTime: 'beforeDatasetsDraw' } },
      scales: { x: timeAxis(false), y: probAxis() }
    },
    plugins: [makeDecor(title, titleY, drawProbLegend)]
  });
}

probChart('adamesChart', adamesHigh, adamesLow,
  'CARLOS ADAMES \u2014 Total Strikes Landed R3 Over Leadup (R1-R3) (Event 16235)', 51, 31);
probChart('williamsChart', williamsHigh, williamsLow,
  'AUSTIN WILLIAMS \u2014 Total Strikes Landed R3 Over Leadup (R1-R3) (Event 16235)', 38, 19);

new Chart(document.getElementById('countChart'), {
  type: 'line',
  data: {
    datasets: [
      { label: 'band A hi', data: pts(bandAdamesHigh), borderColor: 'rgba(255,0,0,0.16)', borderWidth: 1, pointRadius: 0, fill: false, order: 10 },
      { label: 'band A lo', data: pts(bandAdamesLow), borderColor: 'rgba(255,0,0,0.16)', borderWidth: 1, pointRadius: 0, fill: '-1', backgroundColor: 'rgba(255,0,0,0.14)', order: 9 },
      { label: 'band W hi', data: pts(bandWilliamsHigh), borderColor: 'rgba(0,0,255,0.16)', borderWidth: 1, pointRadius: 0, fill: false, order: 8 },
      { label: 'band W lo', data: pts(bandWilliamsLow), borderColor: 'rgba(0,0,255,0.16)', borderWidth: 1, pointRadius: 0, fill: '-1', backgroundColor: 'rgba(0,0,255,0.13)', order: 7 },
      { label: 'Truth CARLOS ADAMES: 9', data: pts(truthAdames), borderColor: 'rgba(255,0,0,0.75)', borderWidth: 3, pointRadius: 0, fill: false, order: 6 },
      { label: 'Truth AUSTIN WILLIAMS: 11', data: pts(truthWilliams), borderColor: 'rgba(0,0,255,0.75)', borderWidth: 3, pointRadius: 0, fill: false, order: 5 },
      { label: 'Predicted CARLOS ADAMES: 18.0', data: pts(predAdames), borderColor: 'rgba(255,0,0,0.6)', borderWidth: 3, borderDash: [3, 4], pointRadius: 0, fill: false, order: 4 },
      { label: 'Predicted AUSTIN WILLIAMS: 10.2', data: pts(predWilliams), borderColor: 'rgba(0,0,255,0.6)', borderWidth: 3, borderDash: [3, 4], pointRadius: 0, fill: false, order: 3 }
    ]
  },
  options: {
    responsive: false, animation: false, devicePixelRatio: 1,
    layout: { padding: { left: 0, right: 23, top: 38, bottom: 0 } },
    plugins: { legend: { display: false }, tooltip: { enabled: false }, filler: { drawTime: 'beforeDatasetsDraw' } },
    scales: {
      x: timeAxis(true),
      y: {
        type: 'linear', min: -1.55, max: 31.7,
        afterBuildTicks: s => { s.ticks = countTicks.map(v => ({ value: v })); },
        ticks: { font: { size: 14 }, color: '#222', padding: 9, autoSkip: false },
        grid: { color: '#e4e4e4', lineWidth: 1, tickLength: 7, tickColor: '#222', tickWidth: 1.2 },
        border: { display: true, color: '#222', width: 1.6 },
        title: { display: true, text: 'Count', font: { size: 15 }, color: '#222', padding: { top: 31, bottom: 0 } },
        afterFit: s => { s.width = 94; }
      }
    }
  },
  plugins: [makeDecor(null, 0, drawCountLegend)]
});
</script>
</body>
</html>
